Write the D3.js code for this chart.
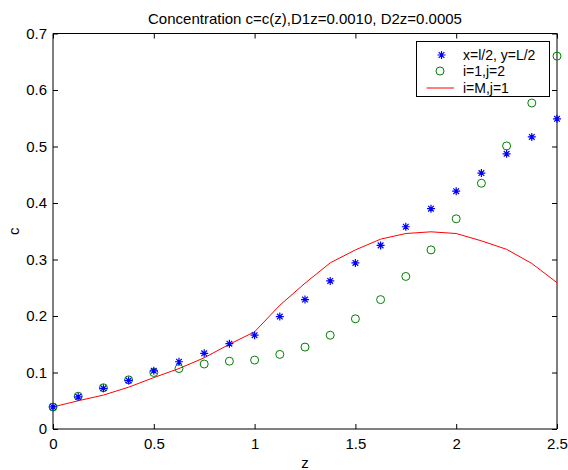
<!DOCTYPE html>
<html>
<head>
<meta charset="utf-8">
<script src="https://cdn.jsdelivr.net/npm/d3@7/dist/d3.min.js"></script>
<style>
  html, body { margin: 0; padding: 0; background: #fff; }
  svg { display: block; font-family: "Liberation Sans", Arial, Helvetica, sans-serif; }
</style>
</head>
<body>
<svg id="chart" width="568" height="470"></svg>
<script>
// Sample positions along z
const zValues = [0, 0.125, 0.25, 0.375, 0.5, 0.625, 0.75, 0.875, 1.0, 1.125, 1.25,
                 1.375, 1.5, 1.625, 1.75, 1.875, 2.0, 2.125, 2.25, 2.375, 2.5];

// Concentration at x=l/2, y=L/2
const centerSeries = [0.039, 0.057, 0.072, 0.086, 0.103, 0.119, 0.134, 0.151, 0.166, 0.199, 0.229,
                      0.262, 0.294, 0.325, 0.358, 0.390, 0.421, 0.453, 0.487, 0.517, 0.549];

// Concentration at i=1, j=2
const cornerSeries = [0.039, 0.058, 0.073, 0.087, 0.100, 0.107, 0.115, 0.120, 0.122, 0.132, 0.145,
                      0.166, 0.195, 0.229, 0.270, 0.317, 0.372, 0.435, 0.501, 0.577, 0.660];

// Concentration at i=M, j=1
const edgeSeries = [0.039, 0.050, 0.060, 0.074, 0.091, 0.107, 0.126, 0.150, 0.172, 0.219, 0.258,
                    0.294, 0.317, 0.336, 0.346, 0.349, 0.346, 0.333, 0.318, 0.293, 0.259];

const xTicks = [0, 0.5, 1, 1.5, 2, 2.5];
const yTicks = [0, 0.1, 0.2, 0.3, 0.4, 0.5, 0.6, 0.7];
const legendLabels = ["x=l/2, y=L/2", "i=1,j=2", "i=M,j=1"];
const titleText = "Concentration c=c(z),D1z=0.0010, D2z=0.0005";

const margin = { left: 53, right: 11, top: 33.5, bottom: 41 };
const W = 568, H = 470;
const svg = d3.select("#chart");

const x = d3.scaleLinear().domain([0, 2.5]).range([margin.left, W - margin.right]);
const y = d3.scaleLinear().domain([0, 0.7]).range([H - margin.bottom, margin.top]);

const fontSize = 15;
const tickLen = 5;

// axes with inward ticks on all four sides
const axisBottom = d3.axisBottom(x).tickValues(xTicks).tickSize(-tickLen).tickPadding(9)
  .tickFormat(d3.format("~g"));
const axisTop = d3.axisTop(x).tickValues(xTicks).tickSize(-tickLen).tickFormat("");
const axisLeft = d3.axisLeft(y).tickValues(yTicks).tickSize(-tickLen).tickPadding(6)
  .tickFormat(d3.format("~g"));
const axisRight = d3.axisRight(y).tickValues(yTicks).tickSize(-tickLen).tickFormat("");

function styleAxis(g) {
  g.select(".domain").attr("stroke", "#000").attr("stroke-width", 1);
  g.selectAll(".tick line").attr("stroke", "#000");
  g.selectAll("text").attr("fill", "#000").style("font-size", fontSize + "px");
}

svg.append("g").attr("transform", `translate(0,${y(0)})`).call(axisBottom).call(styleAxis)
  .call(g => g.select(".domain").attr("d", `M${x(0)},0H${x(2.5)}`));
svg.append("g").attr("transform", `translate(0,${y(0.7)})`).call(axisTop).call(styleAxis)
  .call(g => g.select(".domain").attr("d", `M${x(0)},0H${x(2.5)}`));
svg.append("g").attr("transform", `translate(${x(0)},0)`).call(axisLeft).call(styleAxis)
  .call(g => g.select(".domain").attr("d", `M0,${y(0)}V${y(0.7)}`));
svg.append("g").attr("transform", `translate(${x(2.5)},0)`).call(axisRight).call(styleAxis)
  .call(g => g.select(".domain").attr("d", `M0,${y(0)}V${y(0.7)}`));

// red line: i=M, j=1
const line = d3.line().x((d, i) => x(zValues[i])).y(d => y(d));
svg.append("path").datum(edgeSeries)
  .attr("d", line).attr("fill", "none").attr("stroke", "#ff0000").attr("stroke-width", 1);

// green circles: i=1, j=2
svg.append("g").selectAll("circle").data(cornerSeries).join("circle")
  .attr("cx", (d, i) => x(zValues[i])).attr("cy", d => y(d)).attr("r", 4)
  .attr("fill", "none").attr("stroke", "#008000").attr("stroke-width", 1);

// blue asterisks: x=l/2, y=L/2
const starPath = (r) => {
  const a = r * Math.SQRT1_2;
  return `M${-r},0H${r}M0,${-r}V${r}M${-a},${-a}L${a},${a}M${-a},${a}L${a},${-a}`;
};
svg.append("g").selectAll("path").data(centerSeries).join("path")
  .attr("transform", (d, i) => `translate(${x(zValues[i])},${y(d)})`)
  .attr("d", starPath(4)).attr("stroke", "#0000ff").attr("stroke-width", 1.2).attr("fill", "none");

// title and axis labels
svg.append("text").attr("x", (x(0) + x(2.5)) / 2).attr("y", 24)
  .attr("text-anchor", "middle").style("font-size", fontSize + "px").text(titleText);
svg.append("text").attr("x", (x(0) + x(2.5)) / 2).attr("y", 468)
  .attr("text-anchor", "middle").style("font-size", fontSize + "px").text("z");
svg.append("text").attr("transform", `translate(19,${(y(0) + y(0.7)) / 2}) rotate(-90)`)
  .attr("text-anchor", "middle").style("font-size", fontSize + "px").text("c");

// legend
const lg = svg.append("g");
lg.append("rect").attr("x", 416.5).attr("y", 41.5).attr("width", 133).attr("height", 55)
  .attr("fill", "#fff").attr("stroke", "#000").attr("stroke-width", 1);
const rowY = [55, 71, 88];
lg.append("path").attr("transform", `translate(441.5,${rowY[0]})`).attr("d", starPath(4))
  .attr("stroke", "#0000ff").attr("stroke-width", 1.2).attr("fill", "none");
lg.append("circle").attr("cx", 440).attr("cy", rowY[1]).attr("r", 4)
  .attr("fill", "none").attr("stroke", "#008000");
lg.append("line").attr("x1", 426.5).attr("x2", 454).attr("y1", rowY[2]).attr("y2", rowY[2])
  .attr("stroke", "#ff0000");
lg.selectAll("text.lbl").data(legendLabels).join("text").attr("class", "lbl")
  .attr("x", 463).attr("y", (d, i) => rowY[i]).attr("dy", "0.35em")
  .style("font-size", "14px").text(d => d);
</script>
</body>
</html>
